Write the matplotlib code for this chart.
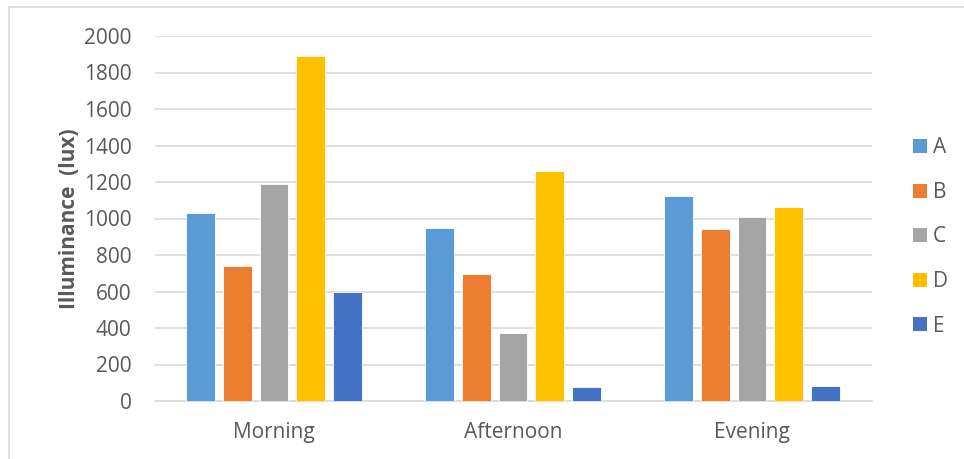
import matplotlib
matplotlib.use("Agg")
import matplotlib.pyplot as plt
import numpy as np
from matplotlib.patches import Patch
from matplotlib.lines import Line2D

categories = ["Morning", "Afternoon", "Evening"]
series = ["A", "B", "C", "D", "E"]
A = [1030, 948, 1123]
B = [740, 696, 941]
C = [1191, 373, 1010]
D = [1892, 1260, 1061]
E = [597, 77, 82]
values = [A, B, C, D, E]
colors = ["#5B9BD5", "#ED7D31", "#A5A5A5", "#FFC000", "#4472C4"]
yticks = [0, 200, 400, 600, 800, 1000, 1200, 1400, 1600, 1800, 2000]

plt.rcParams['font.family'] = ['Open Sans', 'DejaVu Sans']
W, H = 964, 459
fig = plt.figure(figsize=(W/100, H/100), dpi=100)
ax = fig.add_axes([154.5/W, 1-401/H, (871.5-154.5)/W, (401-36)/H])

x = np.arange(len(categories))
bw = 0.121
step = 0.1535
for i, (s, v, c) in enumerate(zip(series, values, colors)):
    ax.bar(x + (i-2)*step, v, width=bw, color=c, edgecolor='white', linewidth=0.6, label=s, zorder=3)

ax.set_xlim(-0.5, 2.5)
ax.set_ylim(0, 2000)
ax.set_yticks(yticks)
ax.set_xticks(x)
ax.set_xticklabels(categories)
ax.grid(axis='y', color='#D9D9D9', linewidth=1.2, zorder=0)
for sp in ['top', 'right', 'left']:
    ax.spines[sp].set_visible(False)
ax.spines['bottom'].set_color('#D9D9D9')
ax.spines['bottom'].set_linewidth(1.2)
ax.tick_params(axis='both', length=0, labelsize=15, colors='#595959')
ax.tick_params(axis='y', pad=16.5)
ax.tick_params(axis='x', pad=15)
ax.set_ylabel("Illuminance  (lux)", fontsize=15, fontweight='bold', color='#595959', labelpad=3)

handles = [Patch(facecolor=c, edgecolor='none', label=s) for s, c in zip(series, colors)]
leg = fig.legend(handles=handles, loc='center left', bbox_to_anchor=(905/W, 1-237/H),
                 frameon=False, fontsize=15, handlelength=0.65, handleheight=0.65,
                 handletextpad=0.3, labelspacing=1.13, borderaxespad=0)
for t in leg.get_texts():
    t.set_color('#595959')

fig.add_artist(Line2D([9/W, 9/W], [0, 1-7/H], color='#D9D9D9', lw=1.2))
fig.add_artist(Line2D([9/W, 1], [1-7/H, 1-7/H], color='#D9D9D9', lw=1.2))

fig.savefig("out.png", dpi=100)
